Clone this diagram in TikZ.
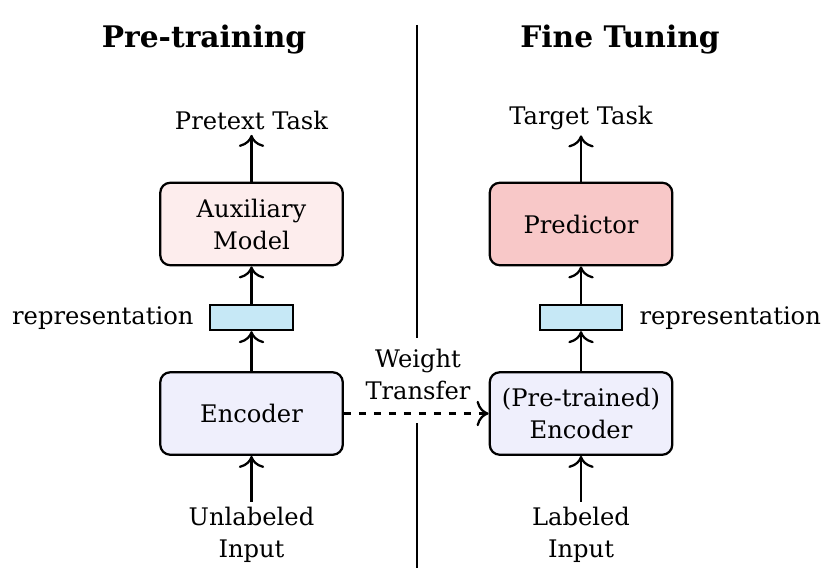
\documentclass[tikz,border=0pt]{standalone}
\usepackage{fontspec}
\setmainfont[Scale=0.88]{DejaVu Serif}
\usetikzlibrary{arrows.meta}
\definecolor{auxfill}{HTML}{FDEDED}
\definecolor{predfill}{HTML}{F8C8C8}
\definecolor{encfill}{HTML}{EFEFFC}
\definecolor{repfill}{HTML}{C6E8F6}
\begin{document}
\begin{tikzpicture}[x=0.4pt,y=-0.4pt,
  box/.style={draw,line width=0.9pt,rounded corners=4pt,minimum width=73pt,minimum height=33pt,align=center,inner sep=0pt},
  repbox/.style={draw,line width=0.9pt,fill=repfill,minimum width=33pt,minimum height=10pt,inner sep=0pt},
  lbl/.style={align=center,inner sep=2pt},
  ttl/.style={font=\bfseries\fontsize{13.5}{16}\selectfont},
  arr/.style={-{To[scale=1.35]},line width=0.9pt},
  every node/.append style={font=\fontsize{11}{12.8}\selectfont}]
\useasboundingbox (0,0) rectangle (824,572);
% titles
\node[ttl] (t1) at (204,40) {Pre-training};
\node[ttl] (t2) at (620,40) {Fine Tuning};
% divider
\coordinate (d1) at (417,25);
\coordinate (d2) at (417,338);
\coordinate (d3) at (417,423);
\coordinate (d4) at (417,568);
\draw[line width=0.9pt] (d1) -- (d2) (d3) -- (d4);
% left column
\node[lbl] (pre) at (251.5,120) {Pretext Task};
\node[box,fill=auxfill] (aux) at (251.5,224) {Auxiliary\\Model};
\node[repbox] (rep1) at (251.5,317.5) {};
\node[lbl,anchor=east] (r1) at (199,318) {representation};
\node[box,fill=encfill] (enc) at (251.5,413.5) {Encoder};
\node[lbl] (in1) at (251.5,535) {Unlabeled\\Input};
% right column
\node[lbl] (tgt) at (581,118) {Target Task};
\node[box,fill=predfill] (pred) at (581,224) {Predictor};
\node[repbox] (rep2) at (581,317.5) {};
\node[lbl,anchor=west] (r2) at (634,318) {representation};
\node[box,fill=encfill] (penc) at (581,413.5) {(Pre-trained)\\Encoder};
\node[lbl] (in2) at (581,535) {Labeled\\Input};
% weight transfer label
\node[lbl] (wt) at (418,374) {Weight\\Transfer};
% arrows
\draw[arr] (aux.north) -- (pre.south);
\draw[arr] (rep1.north) -- (aux.south);
\draw[arr] (enc.north) -- (rep1.south);
\draw[arr] (in1.north) -- (enc.south);
\draw[arr] (pred.north) -- (tgt.south);
\draw[arr] (rep2.north) -- (pred.south);
\draw[arr] (penc.north) -- (rep2.south);
\draw[arr] (in2.north) -- (penc.south);
\draw[arr,dashed] (enc.east) -- (penc.west);
\end{tikzpicture}
\end{document}
